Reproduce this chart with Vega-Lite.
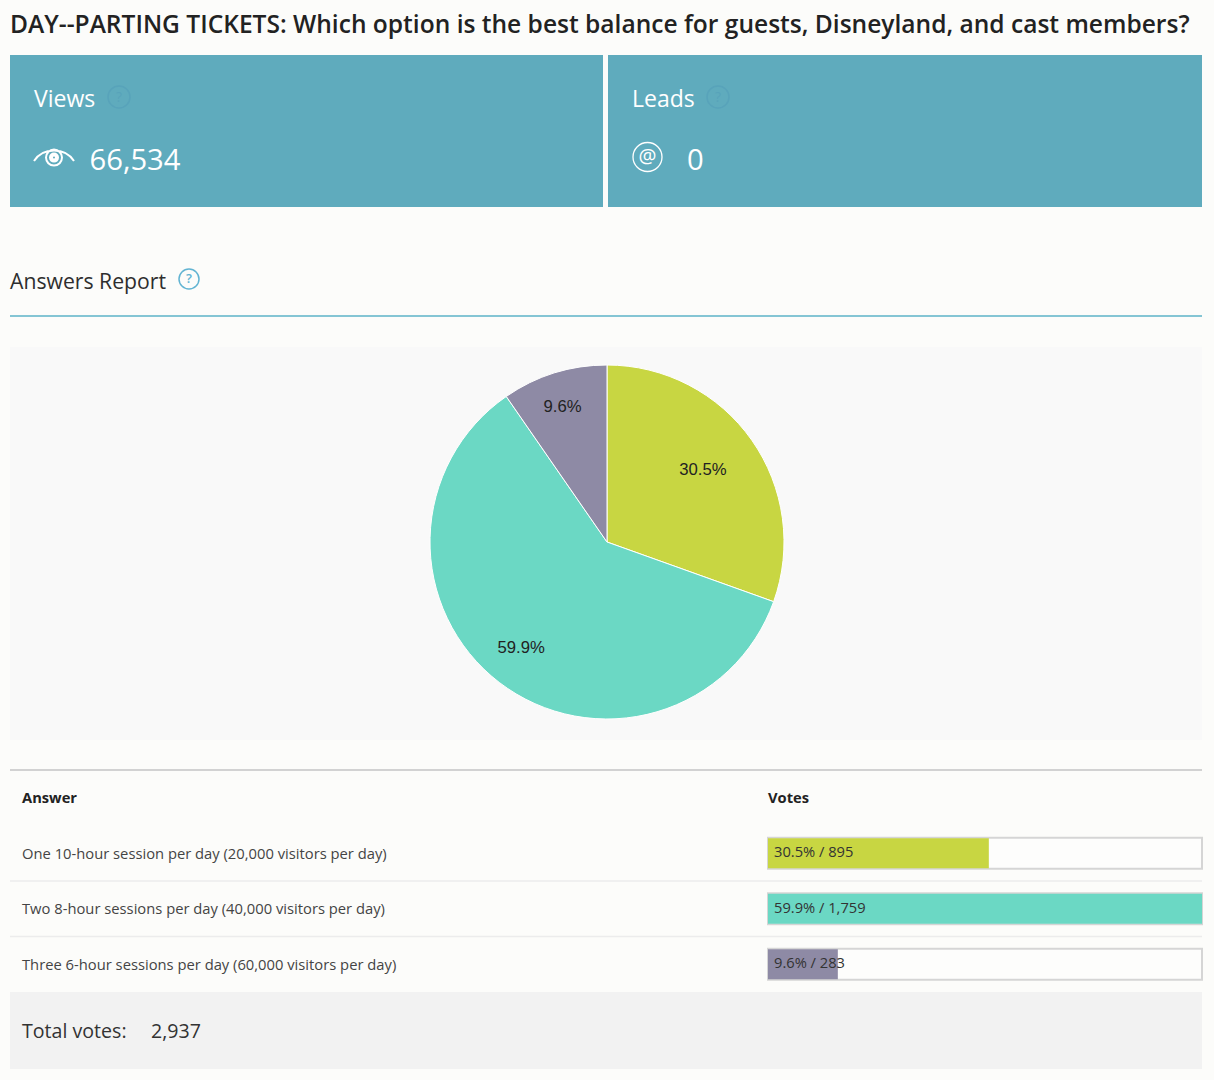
{
"$schema":"https://vega.github.io/schema/vega-lite/v6.json",
"background":"#fcfcfa",
"padding":{"left":9,"top":13,"right":11,"bottom":11},
"spacing":0,
"title":{"text":"DAY--PARTING TICKETS: Which option is the best balance for guests, Disneyland, and cast members?","anchor":"start","frame":"group","font":"Open Sans","fontSize":24.55,"fontWeight":600,"color":"#222222","offset":16},
"config":{"view":{"stroke":null},"text":{"font":"Open Sans"}},
"datasets":{"answers":[
{"answer":"One 10-hour session per day (20,000 visitors per day)","votes":895,"pct":"30.5%","bar":"30.5% / 895","idx":1},
{"answer":"Two 8-hour sessions per day (40,000 visitors per day)","votes":1759,"pct":"59.9%","bar":"59.9% / 1,759","idx":2},
{"answer":"Three 6-hour sessions per day (60,000 visitors per day)","votes":283,"pct":"9.6%","bar":"9.6% / 283","idx":3}
]},
"vconcat":[
{"spacing":5,"bounds":"flush","hconcat":[
{"width":593,"height":152,"view":{"fill":"#5fabbd"},"resolve":{"scale":{"x":"independent","y":"independent"}},"layer":[
{"data":{"values":[{"slot":"label","text":"Views"}]},"mark":{"type":"text","align":"left","baseline":"middle","fontSize":23,"color":"#ffffff"},"encoding":{"x":{"field":"slot","type":"nominal","axis":null,"scale":{"type":"point","padding":0,"range":[24,24]}},"y":{"field":"slot","type":"nominal","axis":null,"scale":{"type":"point","padding":0,"range":[45,45]}},"text":{"field":"text"}}},
{"data":{"values":[{"slot":"value","text":"66,534"}]},"mark":{"type":"text","align":"left","baseline":"middle","fontSize":29.2,"color":"#ffffff"},"encoding":{"x":{"field":"slot","type":"nominal","axis":null,"scale":{"type":"point","padding":0,"range":[79.5,79.5]}},"y":{"field":"slot","type":"nominal","axis":null,"scale":{"type":"point","padding":0,"range":[106,106]}},"text":{"field":"text"}}},
{"data":{"values":[{"slot":"help"}]},"mark":{"type":"point","shape":"circle","filled":false,"size":484,"stroke":"#58a3ba","strokeWidth":1.5,"opacity":1},"encoding":{"x":{"field":"slot","type":"nominal","axis":null,"scale":{"type":"point","padding":0,"range":[109,109]}},"y":{"field":"slot","type":"nominal","axis":null,"scale":{"type":"point","padding":0,"range":[42,42]}}}},
{"data":{"values":[{"slot":"help","text":"?"}]},"mark":{"type":"text","align":"center","baseline":"middle","fontSize":14,"color":"#58a3ba"},"encoding":{"x":{"field":"slot","type":"nominal","axis":null,"scale":{"type":"point","padding":0,"range":[109,109]}},"y":{"field":"slot","type":"nominal","axis":null,"scale":{"type":"point","padding":0,"range":[43,43]}},"text":{"field":"text"}}},
{"data":{"values":[{"slot":"eye"}]},"mark":{"type":"point","filled":false,"size":1600,"stroke":"#ffffff","strokeWidth":2,"opacity":1,"shape":"M-1,0.15 C-0.55,-0.55 0.55,-0.55 1,0.15 M-0.4,-0.02 A0.4,0.4 0 1,0 0.4,-0.02 A0.4,0.4 0 1,0 -0.4,-0.02 M-0.2,-0.02 A0.2,0.2 0 1,0 0.2,-0.02 A0.2,0.2 0 1,0 -0.2,-0.02 M-0.1,-0.02 A0.1,0.1 0 1,0 0.1,-0.02 A0.1,0.1 0 1,0 -0.1,-0.02"},"encoding":{"x":{"field":"slot","type":"nominal","axis":null,"scale":{"type":"point","padding":0,"range":[44,44]}},"y":{"field":"slot","type":"nominal","axis":null,"scale":{"type":"point","padding":0,"range":[103,103]}}}}
]},
{"width":594,"height":152,"view":{"fill":"#5fabbd"},"resolve":{"scale":{"x":"independent","y":"independent"}},"layer":[
{"data":{"values":[{"slot":"label","text":"Leads"}]},"mark":{"type":"text","align":"left","baseline":"middle","fontSize":23,"color":"#ffffff"},"encoding":{"x":{"field":"slot","type":"nominal","axis":null,"scale":{"type":"point","padding":0,"range":[24,24]}},"y":{"field":"slot","type":"nominal","axis":null,"scale":{"type":"point","padding":0,"range":[45,45]}},"text":{"field":"text"}}},
{"data":{"values":[{"slot":"value","text":"0"}]},"mark":{"type":"text","align":"left","baseline":"middle","fontSize":29.2,"color":"#ffffff"},"encoding":{"x":{"field":"slot","type":"nominal","axis":null,"scale":{"type":"point","padding":0,"range":[79,79]}},"y":{"field":"slot","type":"nominal","axis":null,"scale":{"type":"point","padding":0,"range":[106,106]}},"text":{"field":"text"}}},
{"data":{"values":[{"slot":"help"}]},"mark":{"type":"point","shape":"circle","filled":false,"size":484,"stroke":"#58a3ba","strokeWidth":1.5,"opacity":1},"encoding":{"x":{"field":"slot","type":"nominal","axis":null,"scale":{"type":"point","padding":0,"range":[110,110]}},"y":{"field":"slot","type":"nominal","axis":null,"scale":{"type":"point","padding":0,"range":[42,42]}}}},
{"data":{"values":[{"slot":"help","text":"?"}]},"mark":{"type":"text","align":"center","baseline":"middle","fontSize":14,"color":"#58a3ba"},"encoding":{"x":{"field":"slot","type":"nominal","axis":null,"scale":{"type":"point","padding":0,"range":[110,110]}},"y":{"field":"slot","type":"nominal","axis":null,"scale":{"type":"point","padding":0,"range":[43,43]}},"text":{"field":"text"}}},
{"data":{"values":[{"slot":"at"}]},"mark":{"type":"point","shape":"circle","filled":false,"size":841,"stroke":"#ffffff","strokeWidth":1.3,"opacity":1},"encoding":{"x":{"field":"slot","type":"nominal","axis":null,"scale":{"type":"point","padding":0,"range":[39.5,39.5]}},"y":{"field":"slot","type":"nominal","axis":null,"scale":{"type":"point","padding":0,"range":[102,102]}}}},
{"data":{"values":[{"slot":"at","text":"@"}]},"mark":{"type":"text","align":"center","baseline":"middle","fontSize":20,"color":"#ffffff"},"encoding":{"x":{"field":"slot","type":"nominal","axis":null,"scale":{"type":"point","padding":0,"range":[39.5,39.5]}},"y":{"field":"slot","type":"nominal","axis":null,"scale":{"type":"point","padding":0,"range":[102,102]}},"text":{"field":"text"}}}
]}
]},
{"width":1192,"height":140,"resolve":{"scale":{"x":"independent","y":"independent"}},"layer":[
{"data":{"values":[{"slot":"heading","text":"Answers Report"}]},"mark":{"type":"text","align":"left","baseline":"middle","fontSize":21.2,"color":"#2e2e2e"},"encoding":{"x":{"field":"slot","type":"nominal","axis":null,"scale":{"type":"point","padding":0,"range":[0,0]}},"y":{"field":"slot","type":"nominal","axis":null,"scale":{"type":"point","padding":0,"range":[75.5,75.5]}},"text":{"field":"text"}}},
{"data":{"values":[{"slot":"help"}]},"mark":{"type":"point","shape":"circle","filled":false,"size":400,"stroke":"#62b4d2","strokeWidth":1.5,"opacity":1},"encoding":{"x":{"field":"slot","type":"nominal","axis":null,"scale":{"type":"point","padding":0,"range":[179,179]}},"y":{"field":"slot","type":"nominal","axis":null,"scale":{"type":"point","padding":0,"range":[72,72]}}}},
{"data":{"values":[{"slot":"help","text":"?"}]},"mark":{"type":"text","align":"center","baseline":"middle","fontSize":13,"fontWeight":600,"color":"#62b4d2"},"encoding":{"x":{"field":"slot","type":"nominal","axis":null,"scale":{"type":"point","padding":0,"range":[179,179]}},"y":{"field":"slot","type":"nominal","axis":null,"scale":{"type":"point","padding":0,"range":[72,72]}},"text":{"field":"text"}}},
{"data":{"values":[{"slot":"line"}]},"mark":{"type":"rule","color":"#5cb3c7","strokeWidth":1.5},"encoding":{"y":{"field":"slot","type":"nominal","axis":null,"scale":{"type":"point","padding":0,"range":[109,109]}}}}
]},
{"width":1192,"height":393,"view":{"fill":"#f9f9f9"},"data":{"name":"answers"},"encoding":{"x":{"datum":"pie","type":"nominal","axis":null,"scale":{"type":"point","padding":0,"range":[597,597]}},"y":{"datum":"pie","type":"nominal","axis":null,"scale":{"type":"point","padding":0,"range":[195,195]}}},"layer":[
{"mark":{"type":"arc","outerRadius":177,"stroke":"#ffffff","strokeWidth":1},"encoding":{"theta":{"field":"votes","type":"quantitative","stack":true,"scale":{"domain":[0,2937]}},"order":{"field":"idx","type":"ordinal"},"color":{"field":"answer","type":"nominal","legend":null,"scale":{"domain":["One 10-hour session per day (20,000 visitors per day)","Two 8-hour sessions per day (40,000 visitors per day)","Three 6-hour sessions per day (60,000 visitors per day)"],"range":["#c8d642","#6bd8c4","#8e8aa5"]}}}},
{"transform":[{"stack":"votes","sort":[{"field":"idx","order":"ascending"}],"as":["start","end"]},{"fold":["start","end"]},{"aggregate":[{"op":"mean","field":"value","as":"mid"}],"groupby":["answer","pct","idx"]}],"mark":{"type":"text","font":"Liberation Sans","fontSize":16.7,"color":"#222222","align":"center","baseline":"middle","dx":-3,"dy":-2},"encoding":{"theta":{"field":"mid","type":"quantitative","stack":null,"scale":{"domain":[0,2937]}},"radius":{"field":"idx","type":"quantitative","scale":{"zero":false,"nice":false,"domain":[1,2,3],"range":[121,136,139]}},"text":{"field":"pct"}}}
]},
{"spacing":0,"bounds":"flush","hconcat":[
{"width":758,"height":252,"layer":[
{"data":{"values":[{"row":"header"}]},"mark":{"type":"rule","color":"#d2d2d2","strokeWidth":2},"encoding":{"y":{"field":"row","type":"nominal","bandPosition":0,"axis":null,"scale":{"type":"band","paddingInner":0,"paddingOuter":0,"range":[30,252],"domain":["header","r1","r2","r3"]}}}},
{"data":{"values":[{"row":"r2"},{"row":"r3"}]},"mark":{"type":"rule","color":"#ececec","strokeWidth":1.5},"encoding":{"y":{"field":"row","type":"nominal","bandPosition":0}}},
{"data":{"values":[{"row":"header","col":"text","text":"Answer"}]},"mark":{"type":"text","align":"left","baseline":"middle","fontSize":14.7,"fontWeight":"bold","color":"#222222","dy":1},"encoding":{"x":{"field":"col","type":"nominal","axis":null,"scale":{"type":"point","padding":0,"range":[12,12]}},"y":{"field":"row","type":"nominal"},"text":{"field":"text"}}},
{"data":{"values":[{"row":"r1","col":"text","text":"One 10-hour session per day (20,000 visitors per day)"},{"row":"r2","col":"text","text":"Two 8-hour sessions per day (40,000 visitors per day)"},{"row":"r3","col":"text","text":"Three 6-hour sessions per day (60,000 visitors per day)"}]},"mark":{"type":"text","align":"left","baseline":"middle","fontSize":14.75,"color":"#444444","dy":1.5},"encoding":{"x":{"field":"col","type":"nominal","axis":null},"y":{"field":"row","type":"nominal"},"text":{"field":"text"}}}
]},
{"width":434,"height":252,"layer":[
{"data":{"values":[{"row":"header"}]},"mark":{"type":"rule","color":"#d2d2d2","strokeWidth":2},"encoding":{"y":{"field":"row","type":"nominal","bandPosition":0,"axis":null,"scale":{"type":"band","paddingInner":0,"paddingOuter":0,"range":[30,252],"domain":["header","One 10-hour session per day (20,000 visitors per day)","Two 8-hour sessions per day (40,000 visitors per day)","Three 6-hour sessions per day (60,000 visitors per day)"]}}}},
{"data":{"values":[{"row":"Two 8-hour sessions per day (40,000 visitors per day)"},{"row":"Three 6-hour sessions per day (60,000 visitors per day)"}]},"mark":{"type":"rule","color":"#ececec","strokeWidth":1.5},"encoding":{"y":{"field":"row","type":"nominal","bandPosition":0}}},
{"data":{"name":"answers"},"mark":{"type":"bar","size":31,"fill":"#fdfdfc","stroke":"#d5d5d5","strokeWidth":2},"encoding":{"y":{"field":"answer","type":"nominal"},"x":{"datum":0,"type":"quantitative","axis":null,"scale":{"domain":[0,1759],"nice":false,"zero":true}},"x2":{"datum":1759}}},
{"data":{"name":"answers"},"mark":{"type":"bar","size":30,"strokeWidth":0},"encoding":{"y":{"field":"answer","type":"nominal"},"x":{"field":"votes","type":"quantitative","axis":null},"color":{"field":"answer","type":"nominal","legend":null,"scale":{"domain":["One 10-hour session per day (20,000 visitors per day)","Two 8-hour sessions per day (40,000 visitors per day)","Three 6-hour sessions per day (60,000 visitors per day)"],"range":["#c8d642","#6bd8c4","#8e8aa5"]}}}},
{"data":{"name":"answers"},"mark":{"type":"text","align":"left","baseline":"middle","fontSize":14.7,"color":"#333333","dx":6,"dy":0},"encoding":{"y":{"field":"answer","type":"nominal"},"x":{"datum":0,"type":"quantitative","axis":null},"text":{"field":"bar"}}},
{"data":{"values":[{"row":"header","text":"Votes"}]},"mark":{"type":"text","align":"left","baseline":"middle","fontSize":14.7,"fontWeight":"bold","color":"#222222","dy":1},"encoding":{"y":{"field":"row","type":"nominal"},"x":{"datum":0,"type":"quantitative","axis":null},"text":{"field":"text"}}}
]}
]},
{"width":1192,"height":77,"view":{"fill":"#f2f2f2"},"layer":[
{"data":{"values":[{"slot":"label","text":"Total votes:"},{"slot":"value","text":"2,937"}]},"mark":{"type":"text","align":"left","baseline":"middle","fontSize":19.6,"color":"#333333"},"encoding":{"x":{"field":"slot","type":"nominal","axis":null,"scale":{"type":"point","padding":0,"range":[12,141]}},"y":{"datum":"total","type":"nominal","axis":null,"scale":{"type":"point","padding":0,"range":[40,40]}},"text":{"field":"text"}}}
]}
]
}
